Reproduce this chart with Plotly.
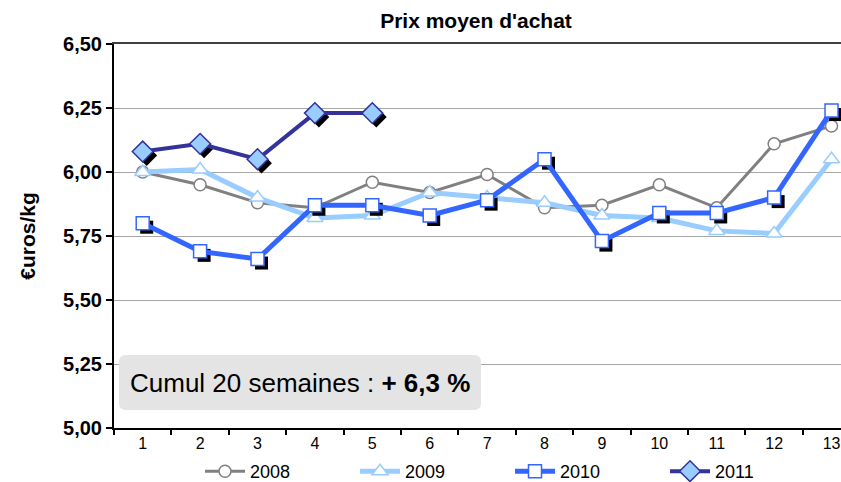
import plotly.graph_objects as go

weeks = list(range(1, 14))
week_labels = [str(w) for w in weeks]
y2008 = [6.00, 5.95, 5.88, 5.86, 5.96, 5.92, 5.99, 5.86, 5.87, 5.95, 5.86, 6.11, 6.18]
y2009 = [6.00, 6.01, 5.90, 5.82, 5.83, 5.92, 5.90, 5.88, 5.83, 5.82, 5.77, 5.76, 6.05]
y2010 = [5.80, 5.69, 5.66, 5.87, 5.87, 5.83, 5.89, 6.05, 5.73, 5.84, 5.84, 5.90, 6.24]
weeks2011 = [1, 2, 3, 4, 5]
y2011 = [6.08, 6.11, 6.05, 6.23, 6.23]

FONT = "Liberation Sans"
L, R, T, B = 114, 0, 44, 54
W, H = 841, 482
pw, ph = W - L - R, H - T - B
xr = [0.5, 13.165]
yr = [5.0, 6.5]
# shadow offset in pixels
dx_px, dy_px = 4, 4
dx = dx_px * (xr[1] - xr[0]) / pw
dy = dy_px * (yr[1] - yr[0]) / ph

fig = go.Figure()

fig.add_trace(go.Scatter(
    x=weeks, y=y2008, name="2008", mode="lines+markers",
    line=dict(color="#808080", width=3),
    marker=dict(symbol="circle", size=12, color="white", line=dict(color="#808080", width=1.5)),
))
fig.add_trace(go.Scatter(
    x=weeks, y=y2009, name="2009", mode="lines+markers",
    line=dict(color="#99CCFF", width=5),
    marker=dict(symbol="triangle-up", size=14, color="white", line=dict(color="#99CCFF", width=1.5)),
))
# shadows
fig.add_trace(go.Scatter(
    x=weeks, y=y2010, mode="markers", showlegend=False, hoverinfo="skip",
    marker=dict(symbol="square", size=13, color="black"), xaxis="x2", yaxis="y2",
))
fig.add_trace(go.Scatter(
    x=weeks2011, y=y2011, mode="markers", showlegend=False, hoverinfo="skip",
    marker=dict(symbol="diamond", size=16, color="black"), xaxis="x2", yaxis="y2",
))
fig.add_trace(go.Scatter(
    x=weeks, y=y2010, name="2010", mode="lines+markers",
    line=dict(color="#3366FF", width=5),
    marker=dict(symbol="square", size=13, color="white", line=dict(color="#3366FF", width=1.5)),
    xaxis="x3", yaxis="y3",
))
fig.add_trace(go.Scatter(
    x=weeks2011, y=y2011, name="2011", mode="lines+markers",
    line=dict(color="#333399", width=4),
    marker=dict(symbol="diamond", size=16, color="#99CCFF", line=dict(color="#333399", width=1.5)),
    xaxis="x3", yaxis="y3",
))

# rounded box for the annotation
bx0, bx1 = (119 - L) / pw, (481 - L) / pw
by0, by1 = (H - B - 410) / ph, (H - B - 355) / ph
rx, ry = 7 / pw, 7 / ph
path = (f"M {bx0+rx},{by0} L {bx1-rx},{by0} Q {bx1},{by0} {bx1},{by0+ry} "
        f"L {bx1},{by1-ry} Q {bx1},{by1} {bx1-rx},{by1} L {bx0+rx},{by1} "
        f"Q {bx0},{by1} {bx0},{by1-ry} L {bx0},{by0+ry} Q {bx0},{by0} {bx0+rx},{by0} Z")

fig.update_layout(
    width=W, height=H,
    margin=dict(l=L, r=R, t=T, b=B, autoexpand=False),
    paper_bgcolor="white", plot_bgcolor="white",
    separators=", ",
    font=dict(family=FONT, color="black"),
    title=dict(text="<b>Prix moyen d'achat</b>", x=(476 - L) / pw, xref="paper", xanchor="center",
               y=1 - 21 / H, yanchor="middle", font=dict(size=21, family=FONT)),
    xaxis=dict(range=xr, tickmode="array", tickvals=weeks, ticktext=week_labels,
               ticks="", showgrid=False, showline=True, linecolor="black", linewidth=2,
               tickfont=dict(size=16), zeroline=False, automargin=False,
               minor=dict(tick0=0.5, dtick=1, ticks="outside", ticklen=5, tickcolor="black", tickwidth=1.5)),
    yaxis=dict(range=yr, dtick=0.25, tick0=5.0, tickformat=".2f", showgrid=True, gridcolor="#A6A6A6",
               gridwidth=1, showline=True, linecolor="black", linewidth=2, ticks="outside",
               ticklen=6, tickwidth=1.5, tickcolor="black", zeroline=False, automargin=False,
               tickfont=dict(size=20, family=FONT, weight="bold"),
               title=dict(text="<b>€uros/kg</b>", font=dict(size=21), standoff=22)),
    xaxis2=dict(range=[xr[0] - dx, xr[1] - dx], overlaying="x", visible=False),
    yaxis2=dict(range=[yr[0] + dy, yr[1] + dy], overlaying="y", visible=False),
    xaxis3=dict(range=xr, overlaying="x", side="top", showline=True, linecolor="#404040", linewidth=1.5,
                showticklabels=False, ticks="", showgrid=False, zeroline=False),
    yaxis3=dict(range=yr, overlaying="y", visible=False),
    legend=dict(orientation="h", x=(510 - L) / pw, xanchor="center", y=(H - B - 453) / ph, yanchor="top",
                font=dict(size=18), entrywidth=100, entrywidthmode="pixels", itemwidth=40,
                bgcolor="rgba(0,0,0,0)", tracegroupgap=0),
    shapes=[dict(type="path", path=path, xref="paper", yref="paper", fillcolor="#E4E4E4",
                 line=dict(width=0), layer="above")],
    annotations=[dict(text="Cumul 20 semaines : <b>+ 6,3 %</b>", xref="paper", yref="paper",
                      x=(300 - L) / pw, y=(H - B - 383) / ph, xanchor="center", yanchor="middle",
                      showarrow=False, font=dict(size=26, family=FONT))],
)

fig.write_html("out.html", config={"displayModeBar": False},
               post_script="document.body.style.margin='0';document.body.style.overflow='hidden';")
